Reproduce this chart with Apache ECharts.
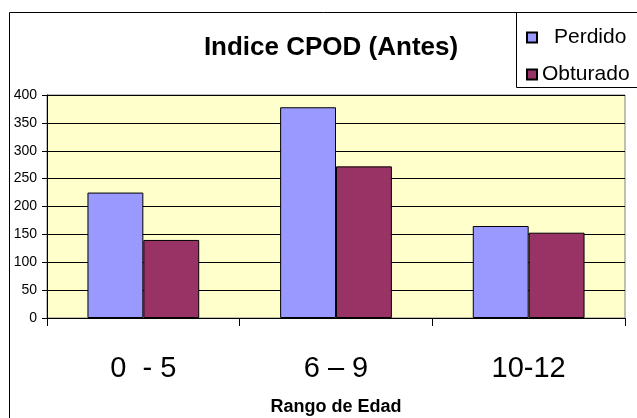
<!DOCTYPE html>
<html>
<head>
<meta charset="utf-8">
<title>Indice CPOD (Antes)</title>
<script src="https://cdn.jsdelivr.net/npm/echarts@6/dist/echarts.min.js"></script>
<style>
html, body { margin: 0; padding: 0; background: #fff; }
#main { width: 637px; height: 418px; }
</style>
</head>
<body>
<div id="main"></div>
<script type="text/javascript">
    // datos
    var categorias = ['0  - 5', '6 \u2013 9', '10-12'];
    var perdido = [225, 378, 165];
    var obturado = [140, 272, 153];
    var ejeY = { min: 0, max: 400, interval: 50 };

    var myChart = echarts.init(document.getElementById('main'));
    var fuente = 'Liberation Sans, Arial, sans-serif';

    var option = {
        animation: false,
        backgroundColor: '#ffffff',
        title: {
            text: 'Indice CPOD (Antes)',
            left: 326,
            top: 30,
            textAlign: 'center',
            textStyle: { fontFamily: fuente, fontWeight: 'bold', fontSize: 26, color: '#000' }
        },
        legend: {
            orient: 'vertical',
            left: 521,
            top: 22,
            icon: 'rect',
            itemWidth: 10,
            itemHeight: 10,
            itemGap: 16,
            textStyle: { fontFamily: fuente, fontSize: 21, color: '#000' },
            data: [
                { name: 'Perdido', textStyle: { padding: [0, 0, 0, 12] } },
                { name: 'Obturado' }
            ]
        },
        graphic: [
            {
                type: 'rect',
                shape: { x: 9.5, y: 12.5, width: 700, height: 500 },
                style: { fill: 'none', stroke: '#000', lineWidth: 1 },
                z: 0
            },
            {
                type: 'rect',
                shape: { x: 516.5, y: 12.5, width: 200, height: 75 },
                style: { fill: 'none', stroke: '#000', lineWidth: 1 },
                z: 0
            }
        ],
        grid: {
            left: 47,
            right: 12,
            top: 95,
            bottom: 100,
            outerBoundsMode: 'none',
            containLabel: false,
            show: true,
            backgroundColor: '#FFFFCC',
            borderColor: '#808080',
            borderWidth: 1
        },
        xAxis: {
            type: 'category',
            data: categorias,
            name: 'Rango de Edad',
            nameLocation: 'middle',
            nameGap: 80,
            nameTextStyle: { fontFamily: fuente, fontWeight: 'bold', fontSize: 18, color: '#000' },
            axisLine: { lineStyle: { color: '#000', width: 1 } },
            axisTick: { show: true, length: 8, lineStyle: { color: '#000' } },
            axisLabel: { margin: 36, fontFamily: fuente, fontSize: 29, color: '#000' }
        },
        yAxis: {
            type: 'value',
            min: ejeY.min,
            max: ejeY.max,
            interval: ejeY.interval,
            axisLine: { show: true, lineStyle: { color: '#000', width: 1 } },
            axisTick: { show: true, length: 5, lineStyle: { color: '#000' } },
            axisLabel: { margin: 10, fontFamily: fuente, fontSize: 14, color: '#000' },
            splitLine: { show: true, lineStyle: { color: '#000', width: 1 } }
        },
        series: [
            {
                name: 'Perdido',
                type: 'bar',
                data: perdido,
                barGap: '0%',
                barCategoryGap: '42%',
                itemStyle: { color: '#9999FF', borderColor: '#000', borderWidth: 1 }
            },
            {
                name: 'Obturado',
                type: 'bar',
                data: obturado,
                itemStyle: { color: '#993366', borderColor: '#000', borderWidth: 1 }
            }
        ]
    };
    myChart.setOption(option);
</script>
</body>
</html>
